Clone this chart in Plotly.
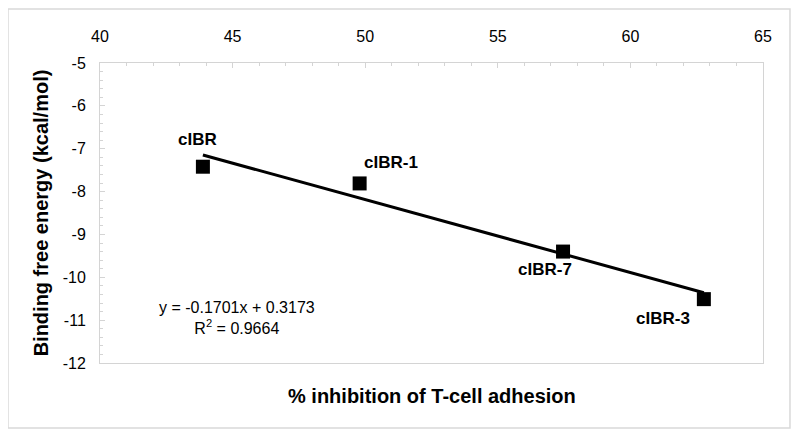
import plotly.graph_objects as go

# Data
names = ["cIBR", "cIBR-1", "cIBR-7", "cIBR-3"]
inhibition = [43.88, 49.79, 57.46, 62.77]
energy = [-7.42, -7.81, -9.40, -10.51]
slope = -0.1701
intercept = 0.3173
r2 = 0.9664
x_ticks = [40, 45, 50, 55, 60, 65]
y_ticks = [-12, -11, -10, -9, -8, -7, -6, -5]
y_tick_text = [str(v) for v in y_ticks]

# label offsets (pixels)
label_shift = {"cIBR": (-5, 27), "cIBR-1": (31, 21), "cIBR-7": (-18, -18), "cIBR-3": (-41, -19)}

FONT = "Liberation Sans, Arial, sans-serif"
GRID = "#d4d4d4"

fig = go.Figure()

xmin, xmax = min(inhibition), max(inhibition)
fig.add_trace(go.Scatter(
    x=[xmin, xmax], y=[slope * xmin + intercept, slope * xmax + intercept],
    mode="lines", line=dict(color="black", width=3), showlegend=False, hoverinfo="skip"))

fig.add_trace(go.Scatter(
    x=inhibition, y=energy, mode="markers",
    marker=dict(symbol="square", size=14, color="black"), showlegend=False))

for n, xv, yv in zip(names, inhibition, energy):
    dx, dy = label_shift[n]
    fig.add_annotation(x=xv, y=yv, xref="x", yref="y", text=f"<b>{n}</b>", showarrow=False,
                       xshift=dx, yshift=dy, font=dict(family=FONT, size=17, color="black"))

fig.add_annotation(x=45.17, y=-10.95, xref="x", yref="y",
                   text=f"y = {slope}x + {intercept}<br>R<sup>2</sup> = {r2}",
                   showarrow=False, align="center",
                   font=dict(family=FONT, size=16, color="black"))

fig.add_annotation(x=0.5, y=-0.11, xref="paper", yref="paper", yanchor="middle", xanchor="center",
                   text="<b>% inhibition of T-cell adhesion</b>", showarrow=False,
                   font=dict(family=FONT, size=20, color="black"))

# outer border
fig.add_shape(type="rect", xref="paper", yref="paper", x0=-0.1388, x1=1.0407, y0=-0.2167, y1=1.18,
              line=dict(color="#d9d9d9", width=1.5), fillcolor="rgba(0,0,0,0)", layer="below")

fig.update_xaxes(range=[40, 65], side="top", tickvals=x_ticks, showgrid=False, zeroline=False,
                 automargin=False,
                 showline=True, linecolor=GRID, linewidth=1, mirror=True,
                 ticks="inside", ticklen=5, tickcolor=GRID, ticklabelstandoff=14,
                 minor=dict(dtick=1, ticks="inside", ticklen=3, tickcolor=GRID, showgrid=False),
                 tickfont=dict(family=FONT, size=16, color="black"))
fig.update_yaxes(range=[-12, -5], tickvals=y_ticks, ticktext=y_tick_text, showgrid=False, zeroline=False,
                 automargin=False,
                 showline=True, linecolor=GRID, linewidth=1, mirror=True,
                 ticks="inside", ticklen=5, tickcolor=GRID, ticklabelstandoff=10,
                 minor=dict(dtick=0.2, ticks="inside", ticklen=3, tickcolor=GRID, showgrid=False),
                 tickfont=dict(family=FONT, size=16, color="black"),
                 title=dict(text="<b>Binding free energy (kcal/mol)</b>", standoff=8,
                            font=dict(family=FONT, size=20, color="black")))

fig.update_layout(width=792, height=428, margin=dict(l=92, r=37, t=55, b=73),
                  plot_bgcolor="white", paper_bgcolor="white")

fig.write_html("out.html")
